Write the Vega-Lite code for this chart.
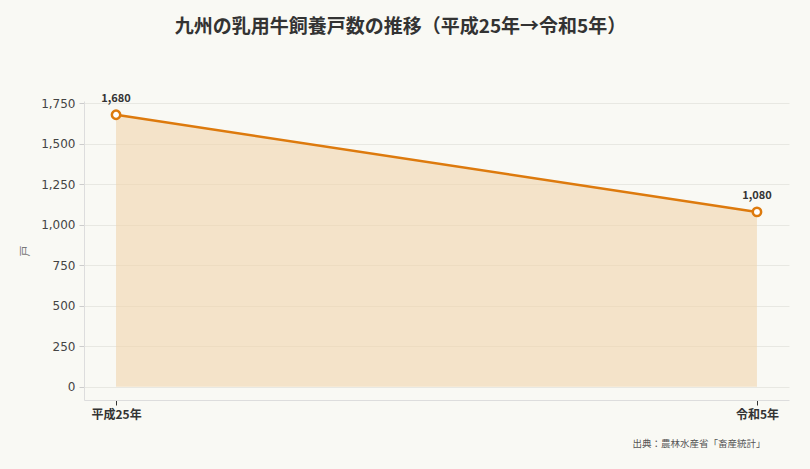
{
  "$schema": "https://vega.github.io/schema/vega-lite/v6.json",
  "description": "九州の乳用牛飼養戸数の推移",
  "width": 705,
  "height": 299,
  "autosize": "none",
  "padding": {"left": 84, "top": 101, "right": 21, "bottom": 69},
  "background": "#f9f9f4",
  "title": {
    "text": "九州の乳用牛飼養戸数の推移（平成25年→令和5年）",
    "fontSize": 19,
    "fontWeight": "bold",
    "color": "#333333",
    "font": "Noto Sans CJK JP",
    "anchor": "middle",
    "dx": -36,
    "offset": 56
  },
  "config": {
    "font": "Noto Sans CJK JP",
    "view": {"stroke": null},
    "axis": {"gridColor": "#e8e8e2", "domainColor": "#dddddd"}
  },
  "data": {
    "values": [
      {"year": "平成25年", "households": 1680},
      {"year": "令和5年", "households": 1080}
    ]
  },
  "encoding": {
    "x": {
      "field": "year",
      "type": "ordinal",
      "sort": null,
      "scale": {"type": "point", "padding": 0.05},
      "axis": {
        "labelAngle": 0,
        "labelFontSize": 12,
        "labelFontWeight": "bold",
        "labelColor": "#333333",
        "labelPadding": 4,
        "tickColor": "#333333",
        "tickSize": 5,
        "grid": false,
        "title": "出典：農林水産省「畜産統計」",
        "titleFontSize": 9.5,
        "titleFontWeight": "normal",
        "titleColor": "#555555",
        "titleAnchor": "end",
        "titleAlign": "right",
        "titleX": 681,
        "titleY": 38
      }
    },
    "y": {
      "field": "households",
      "type": "quantitative",
      "scale": {"domain": [-82, 1765], "nice": false, "zero": false},
      "axis": {
        "values": [0, 250, 500, 750, 1000, 1250, 1500, 1750],
        "format": ",d",
        "labelFont": "DejaVu Sans",
        "labelFontSize": 12,
        "labelColor": "#444444",
        "labelPadding": 4,
        "tickColor": "#cccccc",
        "tickSize": 5,
        "title": "戸",
        "titleFontSize": 11,
        "titleFontWeight": "normal",
        "titleColor": "#777777",
        "titlePadding": 10
      }
    }
  },
  "layer": [
    {
      "mark": {"type": "area", "color": "#f0d3ac", "opacity": 0.6}
    },
    {
      "mark": {"type": "line", "color": "#dd7a0d", "strokeWidth": 2.5}
    },
    {
      "mark": {"type": "point", "filled": true, "fill": "#ffffff", "stroke": "#dd7a0d", "strokeWidth": 2.5, "size": 70, "opacity": 1}
    },
    {
      "mark": {"type": "text", "dy": -16, "fontSize": 11, "fontWeight": "bold", "color": "#333333"},
      "encoding": {"text": {"field": "households", "type": "quantitative", "format": ",d"}}
    }
  ]
}
